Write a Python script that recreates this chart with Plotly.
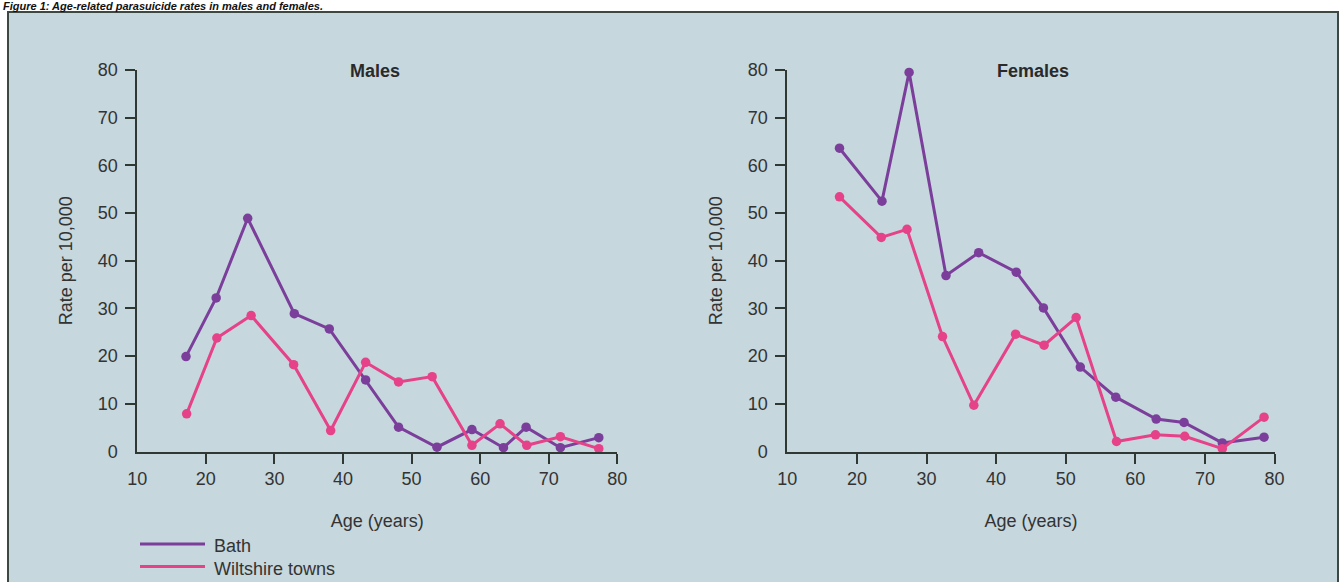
import plotly.graph_objects as go

# ---- data ----
males_bath_age = [17.1, 21.5, 26.1, 32.9, 38.0, 43.3, 48.1, 53.7, 58.8, 63.4, 66.7, 71.7, 77.3]
males_bath_rate = [19.9, 32.2, 48.9, 28.9, 25.7, 15.0, 5.1, 0.9, 4.6, 0.8, 5.1, 0.8, 2.9]
males_wilts_age = [17.2, 21.6, 26.6, 32.8, 38.2, 43.3, 48.1, 53.0, 58.8, 62.9, 66.8, 71.7, 77.3]
males_wilts_rate = [7.9, 23.8, 28.5, 18.2, 4.4, 18.7, 14.6, 15.7, 1.3, 5.8, 1.3, 3.1, 0.6]

females_bath_age = [17.5, 23.6, 27.5, 32.8, 37.5, 42.9, 46.8, 52.1, 57.2, 63.0, 67.0, 72.5, 78.5]
females_bath_rate = [63.6, 52.5, 79.5, 36.9, 41.7, 37.6, 30.1, 17.7, 11.4, 6.8, 6.1, 1.8, 3.0]
females_wilts_age = [17.5, 23.5, 27.2, 32.3, 36.8, 42.8, 46.9, 51.5, 57.3, 62.9, 67.1, 72.5, 78.5]
females_wilts_rate = [53.4, 44.9, 46.6, 24.1, 9.7, 24.6, 22.3, 28.1, 2.1, 3.5, 3.2, 0.6, 7.2]

x_ticks = [10, 20, 30, 40, 50, 60, 70, 80]
y_ticks = [0, 10, 20, 30, 40, 50, 60, 70, 80]
series_names = ["Bath", "Wiltshire towns"]
panel_titles = ["Males", "Females"]
caption = "Figure 1: Age-related parasuicide rates in males and females."

# ---- style ----
W, H = 1341, 582
BATH = "#7b3f9b"
WILTS = "#e5428a"
AXC = "#2f3832"
TXT = "#333333"
BG = "#c6d7dd"
FONT = "Liberation Sans, Arial, sans-serif"

def px(xp):
    return xp / W

def py(yp):
    return 1 - yp / H

fig = go.Figure()

panels = [
    ("x", "y", males_bath_age, males_bath_rate, males_wilts_age, males_wilts_rate),
    ("x2", "y2", females_bath_age, females_bath_rate, females_wilts_age, females_wilts_rate),
]
for xa, ya, ba, br, wa, wr in panels:
    fig.add_trace(go.Scatter(x=ba, y=br, xaxis=xa, yaxis=ya, mode="lines+markers",
                             name=series_names[0], showlegend=False, cliponaxis=False,
                             line=dict(color=BATH, width=3), marker=dict(color=BATH, size=9.5)))
    fig.add_trace(go.Scatter(x=wa, y=wr, xaxis=xa, yaxis=ya, mode="lines+markers",
                             name=series_names[1], showlegend=False, cliponaxis=False,
                             line=dict(color=WILTS, width=3), marker=dict(color=WILTS, size=9.5)))

def xaxis(dom):
    return dict(domain=dom, range=[10, 80], tickvals=x_ticks, ticktext=[str(v) for v in x_ticks],
                automargin=False,
                showline=True, linecolor=AXC, linewidth=2, showgrid=False, zeroline=False,
                ticks="outside", ticklen=10, tickcolor="rgba(0,0,0,0)",
                minor=dict(tickmode="array", tickvals=x_ticks[1:], ticks="outside", ticklen=10,
                           tickwidth=2, tickcolor=AXC, showgrid=False),
                tickfont=dict(family=FONT, size=18, color=TXT),
                title=dict(text="Age (years)", font=dict(family=FONT, size=18, color=TXT), standoff=26),
                fixedrange=True)

def yaxis(dom, anchor):
    return dict(domain=dom, range=[0, 80], tickvals=y_ticks, ticktext=[str(v) for v in y_ticks],
                anchor=anchor, automargin=False,
                showline=True, linecolor=AXC, linewidth=2, showgrid=False, zeroline=False,
                ticks="outside", ticklen=14, tickcolor="rgba(0,0,0,0)",
                minor=dict(tickmode="array", tickvals=y_ticks[1:], ticks="outside", ticklen=10,
                           tickwidth=2, tickcolor=AXC, showgrid=False),
                tickfont=dict(family=FONT, size=18, color=TXT),
                title=dict(text="Rate per 10,000", font=dict(family=FONT, size=18, color=TXT), standoff=20),
                fixedrange=True)

ydom = [py(451.5), py(70)]
fig.update_layout(
    template="none",
    width=W, height=H, autosize=False,
    margin=dict(l=0, r=0, t=0, b=0, autoexpand=False),
    paper_bgcolor="white", plot_bgcolor="rgba(0,0,0,0)",
    font=dict(family=FONT, color=TXT),
    xaxis=dict(**xaxis([px(137.3), px(617.3)]), anchor="y"),
    yaxis=yaxis(ydom, "x"),
    xaxis2=dict(**xaxis([px(787.3), px(1274.5)]), anchor="y2"),
    yaxis2=yaxis(ydom, "x2"),
    showlegend=False,
)

# panel background box
fig.add_shape(type="rect", xref="paper", yref="paper", x0=px(8), x1=px(1338), y0=py(600), y1=py(12),
              fillcolor=BG, line=dict(color="#3e4843", width=2), layer="below")

# panel titles
fig.add_annotation(text="<b>" + panel_titles[0] + "</b>", xref="paper", yref="paper",
                   x=px(375), y=py(71), xanchor="center", yanchor="middle", showarrow=False,
                   font=dict(family=FONT, size=18, color="#2a2a2a"))
fig.add_annotation(text="<b>" + panel_titles[1] + "</b>", xref="paper", yref="paper",
                   x=px(1033), y=py(71), xanchor="center", yanchor="middle", showarrow=False,
                   font=dict(family=FONT, size=18, color="#2a2a2a"))

# caption strip above the box
fig.add_annotation(text="<b><i>" + caption + "</i></b>", xref="paper", yref="paper",
                   x=px(2), y=py(6), xanchor="left", yanchor="middle", showarrow=False,
                   borderpad=0, font=dict(family=FONT, size=11, color="#111111"))

# legend key
for i, (name, col) in enumerate(zip(series_names, [BATH, WILTS])):
    yy = 544 + i * 22.5
    fig.add_shape(type="line", xref="paper", yref="paper", x0=px(140), x1=px(205), y0=py(yy), y1=py(yy),
                  line=dict(color=col, width=3))
    fig.add_annotation(text=name, xref="paper", yref="paper", x=px(212), y=py(yy + 2),
                       xanchor="left", yanchor="middle", showarrow=False,
                       font=dict(family=FONT, size=18, color=TXT))

fig.write_html("out.html", config={"displayModeBar": False},
               post_script="document.body.style.margin='0px';document.body.style.overflow='hidden';")
